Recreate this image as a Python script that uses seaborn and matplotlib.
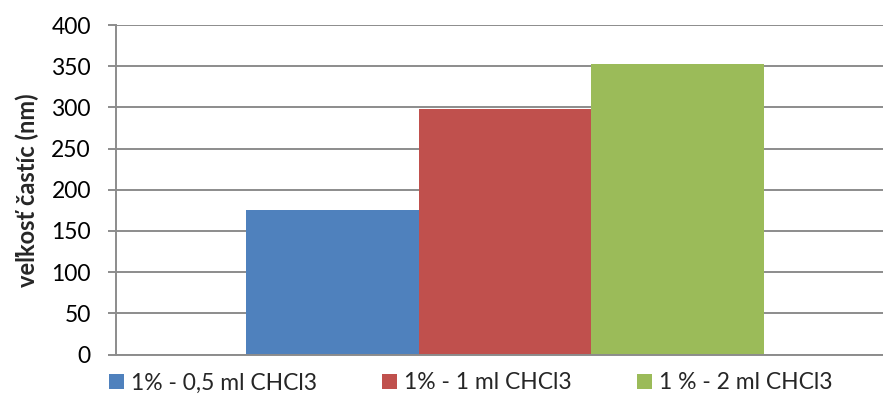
import matplotlib
matplotlib.use("Agg")
import matplotlib.pyplot as plt
from matplotlib.patches import Patch
import seaborn as sns
import pandas as pd

# Series shown as adjacent bars
series = ["1% - 0,5 ml CHCl3", "1% - 1 ml CHCl3", "1 % - 2 ml CHCl3"]
sizes_nm = [175, 298, 353]
colors = ["#4F81BD", "#C0504D", "#9BBB59"]
y_ticks = [0, 50, 100, 150, 200, 250, 300, 350, 400]
y_label = "veľkosť častíc (nm)"

sns.set_theme(style="white")
plt.rcParams["font.family"] = ["Lato", "DejaVu Sans"]

df = pd.DataFrame({"series": series, "size": sizes_nm})

fig = plt.figure(figsize=(8.83, 3.94), dpi=100)
ax = fig.add_axes([116 / 883, (394 - 354.5) / 394, 1 - 116 / 883, (354.5 - 25) / 394])

sns.barplot(data=df, x="series", y="size", hue="series", palette=colors,
            width=1.0, saturation=1.0, legend=False, ax=ax, linewidth=0)

grid_c = "#8C8C8C"
ax.set_ylim(0, 400)
ax.set_yticks(y_ticks)
ax.set_xlim(-1.253, 3.189)
ax.set_xticks([])
ax.yaxis.grid(True, color=grid_c, linewidth=1.4)
ax.set_axisbelow(True)
for side in ["top", "right"]:
    ax.spines[side].set_visible(False)
for side in ["left", "bottom"]:
    ax.spines[side].set_color(grid_c)
    ax.spines[side].set_linewidth(1.4)
ax.tick_params(axis="y", which="major", left=True, length=6, width=1.4,
               color=grid_c, labelsize=16.5, labelcolor="black", pad=12)
ax.set_xlabel("")
ax.set_ylabel(y_label, fontsize=17, fontweight="bold", labelpad=9)

handles = [Patch(facecolor=c, edgecolor="none") for c in colors]
fig.legend(handles, series, loc="center", bbox_to_anchor=(0.533, 0.028),
           ncol=3, frameon=False, fontsize=16.5, handlelength=0.65,
           handleheight=0.65, handletextpad=0.3, columnspacing=2.85,
           borderaxespad=0)

fig.savefig("out.png", dpi=100)
